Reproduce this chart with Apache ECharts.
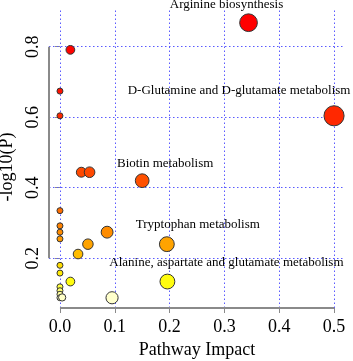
<!DOCTYPE html>
<html>
<head>
<meta charset="utf-8">
<script src="https://cdn.jsdelivr.net/npm/echarts@6/dist/echarts.min.js"></script>
<style>html,body{margin:0;padding:0;background:#fff}#c{width:353px;height:361px}</style>
</head>
<body>
<div id="c"></div>
<script>
// pathway impact (x) and -log10(P) (y)
const impact  = [0.344, 0.500, 0.019, 0.000, 0.000, 0.039, 0.054, 0.150, 0.000, 0.000, 0.000, 0.000, 0.086, 0.051, 0.033, 0.195, 0.196, 0.000, 0.000, 0.000, 0.000, 0.000, 0.000, 0.004, 0.019, 0.095];
const negLogP = [0.868, 0.604, 0.791, 0.674, 0.604, 0.444, 0.444, 0.420, 0.335, 0.292, 0.274, 0.255, 0.274, 0.240, 0.212, 0.240, 0.134, 0.180, 0.158, 0.119, 0.108, 0.098, 0.088, 0.089, 0.134, 0.088];
const names   = ['Arginine biosynthesis', 'D-Glutamine and D-glutamate metabolism', '', '', '', '', '', 'Biotin metabolism', '', '', '', '', '', '', '', 'Tryptophan metabolism', 'Alanine, aspartate and glutamate metabolism', '', '', '', '', '', '', '', '', ''];
const xTicks = [0, 0.1, 0.2, 0.3, 0.4, 0.5];
const yTicks = [0.2, 0.4, 0.6, 0.8];

const xMin = -0.02, xMax = 0.52, yMin = 0.059, yMax = 0.904;
const font = 'Liberation Serif';
const gray = '#8a8a8a';

// where each pathway name sits relative to its circle
const nudge = {
  'Arginine biosynthesis': [-22, -18],
  'D-Glutamine and D-glutamate metabolism': [-95, -25],
  'Biotin metabolism': [23, -17],
  'Tryptophan metabolism': [31, -20],
  'Alanine, aspartate and glutamate metabolism': [59, -19]
};

const pts = impact.map((x, i) => {
  const d = { value: [x, negLogP[i]], name: names[i] };
  if (names[i]) d.label = { show: true, position: 'inside', offset: nudge[names[i]] };
  return d;
});

const c = echarts.init(document.getElementById('c'));
c.setOption({
  animation: false,
  grid: { left: 49, right: 8, top: 10, bottom: 53, outerBoundsMode: 'none', containLabel: false },
  xAxis: {
    type: 'value', min: xMin, max: xMax,
    name: 'Pathway Impact', nameLocation: 'middle', nameGap: 31,
    nameTextStyle: { fontFamily: font, fontSize: 18, color: '#000' },
    axisLine: { show: false }, splitLine: { show: false },
    axisTick: { show: true, customValues: xTicks, length: 5, lineStyle: { color: gray } },
    axisLabel: { customValues: xTicks, margin: 10, formatter: v => v.toFixed(1), fontFamily: font, fontSize: 18, color: '#000' }
  },
  yAxis: {
    type: 'value', min: yMin, max: yMax,
    name: '-log10(P)', nameLocation: 'middle', nameGap: 32, nameRotate: 90,
    nameTextStyle: { fontFamily: font, fontSize: 18, color: '#000', padding: [0, 16, 0, 0] },
    axisLine: { show: false }, splitLine: { show: false },
    axisTick: { show: true, customValues: yTicks, length: 5, lineStyle: { color: gray } },
    axisLabel: { customValues: yTicks, rotate: 90, margin: 7, formatter: v => v.toFixed(1), fontFamily: font, fontSize: 18, color: '#000' }
  },
  visualMap: {
    show: false, type: 'continuous', dimension: 1, seriesIndex: 2, min: 0.08, max: 0.88,
    inRange: { color: ['#fffff0', '#ffff10', '#ffdc00', '#ffaa00', '#ff8800', '#ff7000', '#ff5e00', '#ff4c00', '#ff4000', '#ff3800', '#ff3000', '#ff2000', '#ff1000', '#ff0800', '#ff0400', '#ff0000', '#ff0000'] }
  },
  series: [
    { // dotted blue grid
      type: 'scatter', data: [], silent: true, z: 1,
      markLine: {
        silent: true, symbol: 'none', z: 1, label: { show: false },
        lineStyle: { color: '#5a5aff', width: 1, type: [1.5, 2.5] },
        data: [...xTicks.map(v => ({ xAxis: v })), ...yTicks.map(v => ({ yAxis: v }))]
      }
    },
    { // R style axis lines spanning the ticks only
      type: 'scatter', data: [], silent: true, z: 2,
      markLine: {
        silent: true, symbol: 'none', z: 2, label: { show: false },
        lineStyle: { color: gray, width: 2, type: 'solid' },
        data: [
          [{ coord: [xTicks[0], yMin] }, { coord: [xTicks[xTicks.length - 1], yMin] }],
          [{ coord: [xMin, yTicks[0]] }, { coord: [xMin, yTicks[yTicks.length - 1]] }]
        ]
      }
    },
    {
      type: 'scatter', z: 3,
      data: pts,
      symbolSize: v => 6 + 20 * Math.sqrt(v[0]),
      itemStyle: { borderColor: '#333', borderWidth: 1, opacity: 1 },
      label: { show: false, formatter: p => p.name, fontFamily: font, fontSize: 13, color: '#000' },
      emphasis: { disabled: true }
    }
  ]
});
</script>
</body>
</html>
